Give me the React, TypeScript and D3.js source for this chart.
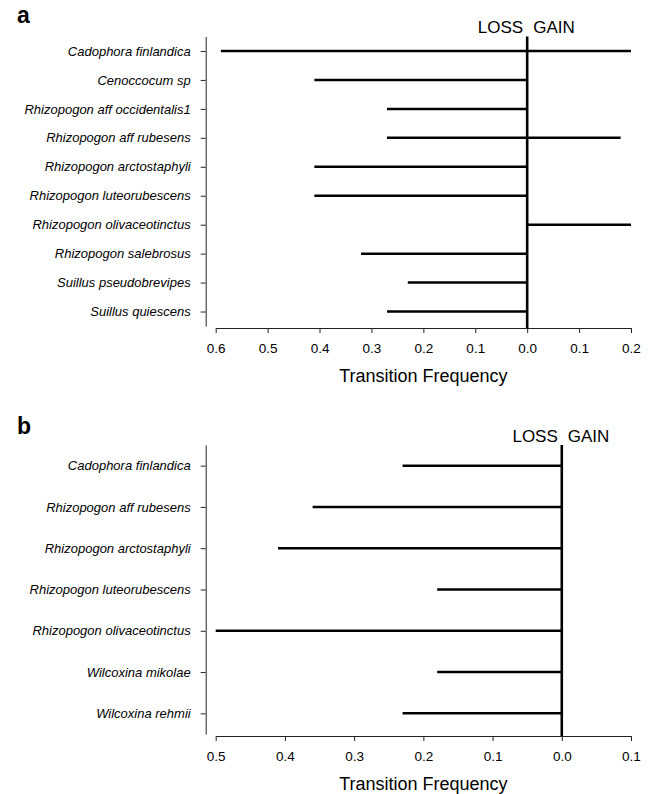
import React, { useEffect, useRef } from 'react';
import * as d3 from 'd3';

// panel a
const taxaA = [
  'Cadophora finlandica',
  'Cenoccocum sp',
  'Rhizopogon aff occidentalis1',
  'Rhizopogon aff rubesens',
  'Rhizopogon arctostaphyli',
  'Rhizopogon luteorubescens',
  'Rhizopogon olivaceotinctus',
  'Rhizopogon salebrosus',
  'Suillus pseudobrevipes',
  'Suillus quiescens',
];
const lossA = [0.59, 0.41, 0.27, 0.27, 0.41, 0.41, 0, 0.32, 0.23, 0.27];
const gainA = [0.2, 0, 0, 0.18, 0, 0, 0.2, 0, 0, 0];
const ticksA = [-0.6, -0.5, -0.4, -0.3, -0.2, -0.1, 0, 0.1, 0.2];

// panel b
const taxaB = [
  'Cadophora finlandica',
  'Rhizopogon aff rubesens',
  'Rhizopogon arctostaphyli',
  'Rhizopogon luteorubescens',
  'Rhizopogon olivaceotinctus',
  'Wilcoxina mikolae',
  'Wilcoxina rehmii',
];
const lossB = [0.23, 0.36, 0.41, 0.18, 0.5, 0.18, 0.23];
const gainB = [0, 0, 0, 0, 0, 0, 0];
const ticksB = [-0.5, -0.4, -0.3, -0.2, -0.1, 0, 0.1];

const FONT = '"Liberation Sans", Arial, Helvetica, sans-serif';

type Panel = {
  letter: string;
  letterY: number;
  taxa: string[];
  loss: number[];
  gain: number[];
  ticks: number[];
  x0: number;
  x1: number;
  yTop: number;
  yBottom: number;
  axisY: number;
};

const panels: Panel[] = [
  { letter: 'a', letterY: 23, taxa: taxaA, loss: lossA, gain: gainA, ticks: ticksA,
    x0: 215.7, x1: 631, yTop: 36.5, yBottom: 326, axisY: 328 },
  { letter: 'b', letterY: 434, taxa: taxaB, loss: lossB, gain: gainB, ticks: ticksB,
    x0: 215.7, x1: 631, yTop: 445, yBottom: 734, axisY: 736 },
];

const App = () => {
  const ref = useRef<SVGSVGElement>(null);

  useEffect(() => {
    const svg = d3.select(ref.current);
    svg.selectAll('*').remove();
    const yAxisX = 205.7;

    panels.forEach(p => {
      const g = svg.append('g');
      const lo = p.ticks[0];
      const hi = p.ticks[p.ticks.length - 1];
      const x = d3.scaleLinear().domain([lo, hi]).range([p.x0, p.x1]);
      const y = d3.scalePoint<string>().domain(p.taxa).range([p.yTop, p.yBottom]).padding(0.5);

      // panel letter
      g.append('text')
        .attr('x', 17)
        .attr('y', p.letterY)
        .attr('font-family', FONT)
        .attr('font-weight', 'bold')
        .attr('font-size', 23)
        .text(p.letter);

      // y axis
      const ya = g.append('g')
        .attr('transform', `translate(${yAxisX},0)`)
        .call(d3.axisLeft(y).tickSize(5).tickSizeOuter(0).tickPadding(10));
      ya.select('.domain').attr('stroke', '#222');
      ya.selectAll('line').attr('stroke', '#222');
      ya.selectAll('text')
        .attr('font-family', FONT)
        .attr('font-style', 'italic')
        .attr('font-size', 13)
        .attr('fill', '#000');

      // x axis
      const xa = g.append('g')
        .attr('transform', `translate(0,${p.axisY})`)
        .call(d3.axisBottom(x).tickValues(p.ticks).tickSize(5).tickSizeOuter(0).tickPadding(10)
          .tickFormat(d => Math.abs(+d).toFixed(1)));
      xa.select('.domain').attr('stroke', '#222');
      xa.selectAll('line').attr('stroke', '#222');
      xa.selectAll('text')
        .attr('font-family', FONT)
        .attr('font-size', 13.5)
        .attr('fill', '#000');

      g.append('text')
        .attr('x', (p.x0 + p.x1) / 2)
        .attr('y', p.axisY + 53.5)
        .attr('text-anchor', 'middle')
        .attr('font-family', FONT)
        .attr('font-size', 18)
        .text('Transition Frequency');

      // loss / gain lines
      g.append('g')
        .selectAll('line')
        .data(p.taxa)
        .join('line')
        .attr('x1', (d, i) => x(-p.loss[i]))
        .attr('x2', (d, i) => x(p.gain[i]))
        .attr('y1', d => y(d) as number)
        .attr('y2', d => y(d) as number)
        .attr('stroke', '#000')
        .attr('stroke-width', 2.5);

      // zero line
      g.append('line')
        .attr('x1', x(0))
        .attr('x2', x(0))
        .attr('y1', p.yTop)
        .attr('y2', p.axisY)
        .attr('stroke', '#000')
        .attr('stroke-width', 2.6);

      g.append('text')
        .attr('x', x(0) - 4)
        .attr('y', p.yTop - 3.5)
        .attr('text-anchor', 'end')
        .attr('font-family', FONT)
        .attr('font-size', 17)
        .text('LOSS');
      g.append('text')
        .attr('x', x(0) + 6)
        .attr('y', p.yTop - 3.5)
        .attr('font-family', FONT)
        .attr('font-size', 17)
        .text('GAIN');
    });
  }, []);

  return (
    <svg
      ref={ref}
      width={651}
      height={794}
      style={{ position: 'absolute', left: 0, top: 0, background: '#fff' }}
    />
  );
};

export default App;
